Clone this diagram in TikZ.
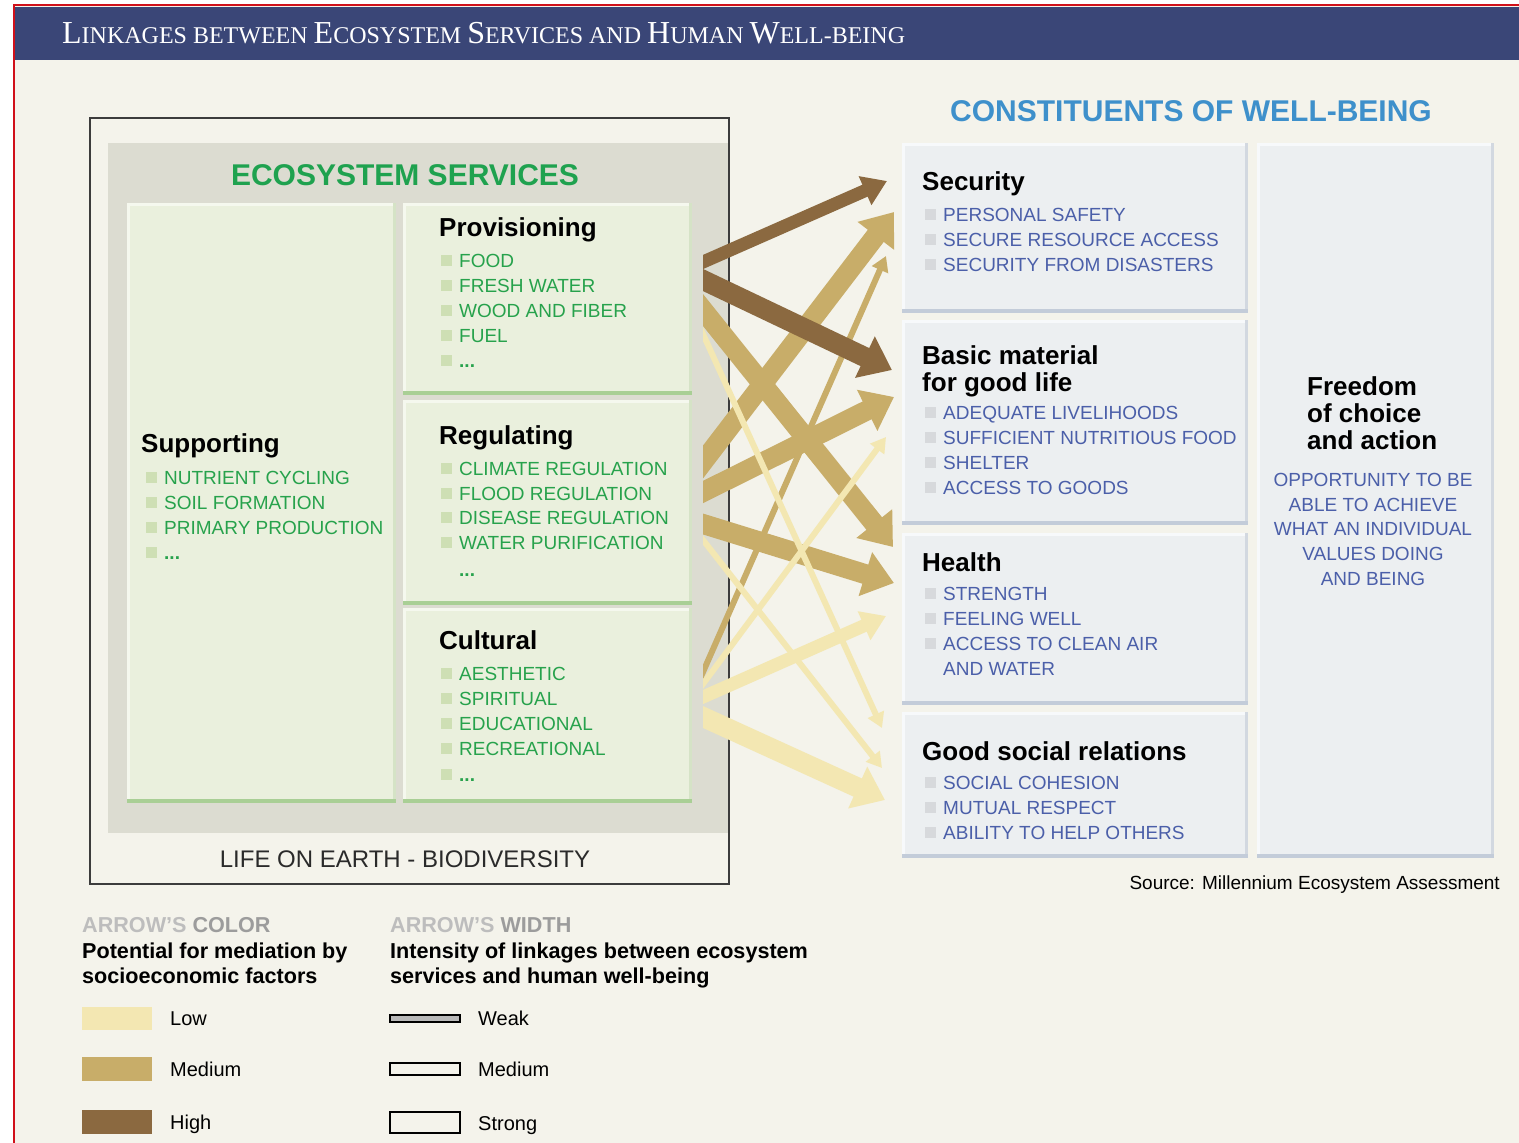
\documentclass[tikz,border=0pt]{standalone}
\usepackage{fontspec}
\setmainfont{Liberation Sans}
\newfontfamily\hdserif{Liberation Serif}
\usetikzlibrary{arrows.meta}
\definecolor{bgc}{HTML}{F4F3EB}
\definecolor{navy}{HTML}{3A4677}
\definecolor{redl}{HTML}{D0101A}
\definecolor{framec}{HTML}{3C3C3C}
\definecolor{panelg}{HTML}{DCDCD1}
\definecolor{gfill}{HTML}{EAF0DD}
\definecolor{gtop}{HTML}{F5F8EE}
\definecolor{gbot}{HTML}{A9CF95}
\definecolor{gright}{HTML}{D5E3C6}
\definecolor{gbul}{HTML}{CEDFB4}
\definecolor{gtext}{HTML}{27A24C}
\definecolor{esgreen}{HTML}{1FA24F}
\definecolor{bfill}{HTML}{ECEFF1}
\definecolor{btop}{HTML}{F7F9FB}
\definecolor{bbot}{HTML}{C3CCD9}
\definecolor{bright}{HTML}{D2D8E0}
\definecolor{bbul}{HTML}{D7D9DC}
\definecolor{btext}{HTML}{4B5FA9}
\definecolor{cwblue}{HTML}{3E90CB}
\definecolor{arhigh}{HTML}{8B6940}
\definecolor{armed}{HTML}{C8AD69}
\definecolor{arlow}{HTML}{F3E7B2}
\definecolor{leggreya}{HTML}{BDBDBD}
\definecolor{leggreyb}{HTML}{9C9C9C}
\definecolor{lifetext}{HTML}{2A2A2A}
\newcommand\hsc[2]{{\fontsize{32}{32}\selectfont #1}{\fontsize{24}{24}\selectfont #2}}
\newcommand\mkbevel[4]{%
  \draw[#2, line width=3pt] ([yshift=-1.5pt]#1.north west) -- ([yshift=-1.5pt]#1.north east);
  \draw[#2, line width=3pt] ([xshift=1.5pt]#1.north west) -- ([xshift=1.5pt]#1.south west);
  \draw[#4, line width=3pt] ([xshift=-1.5pt]#1.north east) -- ([xshift=-1.5pt]#1.south east);
  \draw[#3, line width=4pt] ([yshift=2pt]#1.south west) -- ([yshift=2pt]#1.south east);}
\newcommand\bitem[6]{%
  \fill[#4] (#2-18,#3-12.5) rectangle (#2-7,#3-1.5);
  \node[itm, text=#5] (#1) at (#2,#3) {#6};}
\begin{document}
\begin{tikzpicture}[x=1pt,y=-1pt,
  boxn/.style={inner sep=0pt, outer sep=0pt, draw=none},
  ttl/.style={font=\bfseries\fontsize{26}{26}\selectfont, text=black, anchor=base west, inner sep=0pt},
  itm/.style={font=\fontsize{19}{19}\selectfont, anchor=base west, inner sep=0pt},
  oppt/.style={font=\fontsize{19}{19}\selectfont, anchor=base, inner sep=0pt, text=btext},
  legh/.style={font=\bfseries\fontsize{21.6}{21.6}\selectfont, anchor=base west, inner sep=0pt},
  legt/.style={font=\fontsize{20}{20}\selectfont, anchor=base west, inner sep=0pt},
  lnkweak/.style={line width=6pt, shorten <=-14pt, -{Triangle[length=15pt,width=17pt]}},
  lnkmed/.style={line width=13pt, shorten <=-14pt, -{Triangle[length=24pt,width=30pt]}},
  lnkstrong/.style={line width=20pt, shorten <=-14pt, -{Triangle[length=30pt,width=44pt]}},
  chigh/.style={draw=arhigh, fill=arhigh},
  cmed/.style={draw=armed, fill=armed},
  clow/.style={draw=arlow, fill=arlow}]
\useasboundingbox (0,0) rectangle (1519,1143);
\fill[white] (0,0) rectangle (1519,1143);
\fill[bgc] (15,6) rectangle (1519,1143);
% header
\fill[navy] (15,7) rectangle (1519,60);
\draw[redl, line width=2pt] (14,1143) -- (14,5) -- (1519,5);
\node[anchor=base west, inner sep=0pt, text=white, font=\hdserif\fontsize{24}{24}\selectfont] (title) at (62,43)
  {\hsc{L}{INKAGES BETWEEN} \hsc{E}{COSYSTEM} \hsc{S}{ERVICES AND} \hsc{H}{UMAN} \hsc{W}{ELL-BEING}};
% ecosystem services frame
\fill[panelg] (108,143) rectangle (728,833);
\node[boxn, draw=framec, line width=2pt, minimum width=639pt, minimum height=766pt] (frame) at (409.5,501) {};
\node[font=\bfseries\fontsize{30}{30}\selectfont, text=esgreen, anchor=base, inner sep=0pt] (esttl) at (405,185) {ECOSYSTEM SERVICES};
\node[boxn, fill=gfill, minimum width=269pt, minimum height=600pt] (supp) at (261.5,503) {};
\node[boxn, fill=gfill, minimum width=289pt, minimum height=192pt] (prov) at (547.5,299) {};
\node[boxn, fill=gfill, minimum width=289pt, minimum height=205pt] (reg) at (547.5,502.5) {};
\node[boxn, fill=gfill, minimum width=289pt, minimum height=195pt] (cult) at (547.5,705.5) {};
\mkbevel{supp}{gtop}{gbot}{gright}
\mkbevel{prov}{gtop}{gbot}{gright}
\mkbevel{reg}{gtop}{gbot}{gright}
\mkbevel{cult}{gtop}{gbot}{gright}
\node[ttl] (provt) at (439,236) {Provisioning};
\bitem{p1}{459}{267}{gbul}{gtext}{FOOD}
\bitem{p2}{459}{292}{gbul}{gtext}{FRESH WATER}
\bitem{p3}{459}{317}{gbul}{gtext}{WOOD AND FIBER}
\bitem{p4}{459}{342}{gbul}{gtext}{FUEL}
\bitem{p5}{459}{367}{gbul}{gtext}{\textbf{...}}
\node[ttl] (suppt) at (141,452) {Supporting};
\bitem{s1}{164}{484}{gbul}{gtext}{NUTRIENT CYCLING}
\bitem{s2}{164}{509}{gbul}{gtext}{SOIL FORMATION}
\bitem{s3}{164}{534}{gbul}{gtext}{PRIMARY PRODUCTION}
\bitem{s4}{164}{559}{gbul}{gtext}{\textbf{...}}
\node[ttl] (regt) at (439,444) {Regulating};
\bitem{r1}{459}{475}{gbul}{gtext}{CLIMATE REGULATION}
\bitem{r2}{459}{500}{gbul}{gtext}{FLOOD REGULATION}
\bitem{r3}{459}{524}{gbul}{gtext}{DISEASE REGULATION}
\bitem{r4}{459}{549}{gbul}{gtext}{WATER PURIFICATION}
\node[itm, text=gtext] (r5) at (459,576) {\textbf{...}};
\node[ttl] (cultt) at (439,649) {Cultural};
\bitem{c1}{459}{680}{gbul}{gtext}{AESTHETIC}
\bitem{c2}{459}{705}{gbul}{gtext}{SPIRITUAL}
\bitem{c3}{459}{730}{gbul}{gtext}{EDUCATIONAL}
\bitem{c4}{459}{755}{gbul}{gtext}{RECREATIONAL}
\bitem{c5}{459}{781}{gbul}{gtext}{\textbf{...}}
\node[font=\fontsize{24}{24}\selectfont, text=lifetext, anchor=base, inner sep=0pt] (life) at (405,867) {LIFE ON EARTH - BIODIVERSITY};
% constituents of well-being
\node[font=\bfseries\fontsize{30}{30}\selectfont, text=cwblue, anchor=base, inner sep=0pt] (cwttl) at (1191,121) {CONSTITUENTS OF WELL-BEING};
\node[boxn, fill=bfill, minimum width=346pt, minimum height=170pt] (sec) at (1075,228) {};
\node[boxn, fill=bfill, minimum width=346pt, minimum height=205pt] (bas) at (1075,422.5) {};
\node[boxn, fill=bfill, minimum width=346pt, minimum height=172pt] (hea) at (1075,619) {};
\node[boxn, fill=bfill, minimum width=346pt, minimum height=146pt] (soc) at (1075,785) {};
\node[boxn, fill=bfill, minimum width=237pt, minimum height=715pt] (free) at (1375.5,500.5) {};
\mkbevel{sec}{btop}{bbot}{bright}
\mkbevel{bas}{btop}{bbot}{bright}
\mkbevel{hea}{btop}{bbot}{bright}
\mkbevel{soc}{btop}{bbot}{bright}
\mkbevel{free}{btop}{bbot}{bright}
\node[ttl] (sect) at (922,190) {Security};
\bitem{w1}{943}{221}{bbul}{btext}{PERSONAL SAFETY}
\bitem{w2}{943}{246}{bbul}{btext}{SECURE RESOURCE ACCESS}
\bitem{w3}{943}{271}{bbul}{btext}{SECURITY FROM DISASTERS}
\node[ttl] (bast) at (922,364) {Basic material};
\node[ttl] (bast2) at (922,391) {for good life};
\bitem{b1}{943}{419}{bbul}{btext}{ADEQUATE LIVELIHOODS}
\bitem{b2}{943}{444}{bbul}{btext}{SUFFICIENT NUTRITIOUS FOOD}
\bitem{b3}{943}{469}{bbul}{btext}{SHELTER}
\bitem{b4}{943}{494}{bbul}{btext}{ACCESS TO GOODS}
\node[ttl] (heat) at (922,571) {Health};
\bitem{h1}{943}{600}{bbul}{btext}{STRENGTH}
\bitem{h2}{943}{625}{bbul}{btext}{FEELING WELL}
\bitem{h3}{943}{650}{bbul}{btext}{ACCESS TO CLEAN AIR}
\node[itm, text=btext] (h4) at (943,675) {AND WATER};
\node[ttl] (soct) at (922,760) {Good social relations};
\bitem{g1}{943}{789}{bbul}{btext}{SOCIAL COHESION}
\bitem{g2}{943}{814}{bbul}{btext}{MUTUAL RESPECT}
\bitem{g3}{943}{839}{bbul}{btext}{ABILITY TO HELP OTHERS}
\node[ttl] (fre1) at (1307,395) {Freedom};
\node[ttl] (fre2) at (1307,422) {of choice};
\node[ttl] (fre3) at (1307,449) {and action};
\node[oppt] (o1) at (1373,486) {OPPORTUNITY TO BE};
\node[oppt] (o2) at (1373,511) {ABLE TO ACHIEVE};
\node[oppt] (o3) at (1373,535) {WHAT AN INDIVIDUAL};
\node[oppt] (o4) at (1373,560) {VALUES DOING};
\node[oppt] (o5) at (1373,585) {AND BEING};
\node[font=\fontsize{19}{19}\selectfont, anchor=base east, inner sep=0pt] (src) at (1500,889) {Source: Millennium Ecosystem Assessment};
% linkage arrows
\begin{scope}
\clip (703,0) rectangle (1519,1143);
% medium colour
\draw[cmed, lnkstrong] ([shift={(11,11)}]prov.east) -- ([shift={(-9,-72)}]hea.west);
\draw[cmed, lnkstrong] ([shift={(11,-40.5)}]reg.east) -- ([shift={(-8,-16)}]sec.west);
\draw[cmed, lnkstrong] ([shift={(11,-10.5)}]reg.east) -- ([shift={(-8,-25.5)}]bas.west);
\draw[cmed, lnkstrong] ([shift={(11,21.5)}]reg.east) -- ([shift={(-8,-36)}]hea.west);
\draw[cmed, lnkweak] ([shift={(11,-33.5)}]cult.east) -- ([shift={(-16,28)}]sec.west);
% low colour
\draw[clow, lnkweak] ([shift={(11,35)}]prov.east) -- ([shift={(-20,-57)}]soc.west);
\draw[clow, lnkweak] ([shift={(11,37.5)}]reg.east) -- ([shift={(-20,-17)}]soc.west);
\draw[clow, lnkweak] ([shift={(11,-21.5)}]cult.east) -- ([shift={(-16,14.5)}]bas.west);
\draw[clow, lnkmed] ([shift={(11,-8.5)}]cult.east) -- ([shift={(-16,-3)}]hea.west);
\draw[clow, lnkstrong] ([shift={(11,11.5)}]cult.east) -- ([shift={(-17,15)}]soc.west);
% high colour
\draw[chigh, lnkmed] ([shift={(11,-37)}]prov.east) -- ([shift={(-15,-47)}]sec.west);
\draw[chigh, lnkstrong] ([shift={(11,-19)}]prov.east) -- ([shift={(-10,-52.5)}]bas.west);
\end{scope}
% legend
\node[legh] (lh1) at (82,932) {\textcolor{leggreya}{ARROW’S} \textcolor{leggreyb}{COLOR}};
\node[legh] (lh1a) at (82,958) {Potential for mediation by};
\node[legh] (lh1b) at (82,983) {socioeconomic factors};
\node[boxn, fill=arlow, minimum width=70pt, minimum height=23pt] (swlow) at (116.5,1018.5) {};
\node[boxn, fill=armed, minimum width=70pt, minimum height=24pt] (swmed) at (116.5,1069) {};
\node[boxn, fill=arhigh, minimum width=70pt, minimum height=24pt] (swhigh) at (116.5,1122) {};
\node[legt] (llow) at (170,1025) {Low};
\node[legt] (lmed) at (170,1076) {Medium};
\node[legt] (lhigh) at (170,1129) {High};
\node[legh] (lh2) at (390,932) {\textcolor{leggreya}{ARROW’S} \textcolor{leggreyb}{WIDTH}};
\node[legh] (lh2a) at (390,958) {Intensity of linkages between ecosystem};
\node[legh] (lh2b) at (390,983) {services and human well-being};
\node[boxn, draw=black, line width=1.5pt, fill=gray!55, minimum width=70pt, minimum height=7pt] (wweak) at (425,1018.5) {};
\node[boxn, draw=black, line width=1.5pt, fill=bgc, minimum width=70pt, minimum height=12pt] (wmed) at (425,1069) {};
\node[boxn, draw=black, line width=1.5pt, fill=bgc, minimum width=70pt, minimum height=21pt] (wstrong) at (425,1122.5) {};
\node[legt] (lweak) at (478,1025) {Weak};
\node[legt] (lwmed) at (478,1076) {Medium};
\node[legt] (lstrong) at (478,1130) {Strong};
\end{tikzpicture}
\end{document}
